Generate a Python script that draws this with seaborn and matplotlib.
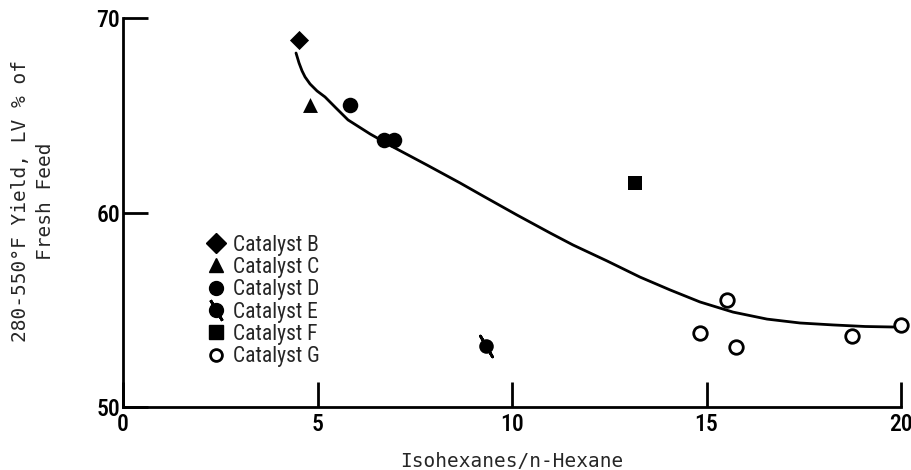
import matplotlib
matplotlib.use("Agg")
import matplotlib.pyplot as plt
from matplotlib.lines import Line2D
from matplotlib import font_manager
import seaborn as sns

# ---- data ----
cat_b_x = [4.52]
cat_b_y = [68.87]
cat_c_x = [4.81]
cat_c_y = [65.53]
cat_d_x = [5.84, 6.71, 6.97]
cat_d_y = [65.53, 63.73, 63.73]
cat_e_x = [9.33]
cat_e_y = [53.14]
cat_f_x = [13.16]
cat_f_y = [61.52]
cat_g_x = [14.83, 15.53, 15.76, 18.74, 20.0]
cat_g_y = [53.80, 55.50, 53.08, 53.65, 54.20]

# trend curve
curve_x = [4.447, 4.524, 4.602, 4.679, 4.807, 4.987, 5.193, 5.476, 5.784, 6.350,
           6.941, 7.815, 8.663, 9.254, 10.129, 10.977, 11.568, 12.442, 13.290,
           14.062, 14.833, 15.681, 16.555, 17.404, 18.252, 19.075, 19.897]
curve_y = [68.20, 67.69, 67.28, 66.97, 66.61, 66.25, 65.94, 65.37, 64.76, 64.04,
           63.37, 62.44, 61.52, 60.85, 59.87, 58.95, 58.33, 57.51, 56.68,
           56.02, 55.40, 54.88, 54.52, 54.32, 54.22, 54.14, 54.11]

x_ticks = [0, 5, 10, 15, 20]
y_ticks = [50, 60, 70]
legend_labels = ["Catalyst B", "Catalyst C", "Catalyst D", "Catalyst E",
                 "Catalyst F", "Catalyst G"]

sns.set_theme(style="white")
plt.rcParams['font.family'] = ['DejaVu Sans']

names = {f.name for f in font_manager.fontManager.ttflist}
cond_family = 'DejaVu Sans'
for cand in ['Liberation Sans Narrow', 'Roboto Condensed', 'Open Sans Condensed',
             'Noto Sans Condensed', 'DejaVu Sans Condensed']:
    if cand in names:
        cond_family = cand
        break

fig = plt.figure(figsize=(9.12, 4.70), dpi=100)
ax = fig.add_axes([0.1349, 0.134, 0.988 - 0.1349, 0.9617 - 0.134])

# trend curve
sns.lineplot(x=curve_x, y=curve_y, ax=ax, color="black", linewidth=2.0,
             sort=False, estimator=None)

common = dict(ax=ax, color="black", linewidth=0, clip_on=False, legend=False, zorder=3)
sns.scatterplot(x=cat_b_x, y=cat_b_y, marker="D", s=95, **common)
sns.scatterplot(x=cat_c_x, y=cat_c_y, marker="^", s=115, **common)
sns.scatterplot(x=cat_d_x, y=cat_d_y, marker="o", s=125, **common)
sns.scatterplot(x=cat_e_x, y=cat_e_y, marker="o", s=110, **common)
sns.scatterplot(x=cat_e_x, y=cat_e_y, marker=(2, 2, 30), s=300, ax=ax,
                color="black", linewidth=2, clip_on=False, legend=False, zorder=3)
sns.scatterplot(x=cat_f_x, y=cat_f_y, marker="s", s=100, **common)
ax.scatter(cat_g_x, cat_g_y, marker="o", s=95, facecolor="white",
           edgecolor="black", linewidth=2, clip_on=False, zorder=3)

ax.set_xlim(0, 20)
ax.set_ylim(50, 70)
ax.set_xticks(x_ticks)
ax.set_yticks(y_ticks)

tick_font = dict(family=[cond_family], size=17, stretch='condensed', weight='medium')
ax.set_xticklabels([str(t) for t in x_ticks], fontdict=tick_font)
ax.set_yticklabels([str(t) for t in y_ticks], fontdict=tick_font)
ax.tick_params(axis="both", direction="in", length=18, width=2, color="black",
               labelcolor="black", bottom=True, left=True)
ax.tick_params(axis="x", pad=4)
ax.tick_params(axis="y", pad=2)

for side in ["top", "right"]:
    ax.spines[side].set_visible(False)
for side in ["left", "bottom"]:
    ax.spines[side].set_color("black")
    ax.spines[side].set_linewidth(2)

label_font = dict(family=['DejaVu Sans Mono'], size=14)
ax.set_xlabel("Isohexanes/n-Hexane", fontdict=label_font)
ax.set_ylabel("280-550°F Yield, LV % of\nFresh Feed", fontdict=label_font,
              linespacing=1.4)
ax.yaxis.set_label_coords(-0.088, 0.53)
ax.xaxis.set_label_coords(0.5, -0.115)

# legend
h_b = Line2D([], [], marker="D", color="black", linestyle="", markersize=10)
h_c = Line2D([], [], marker="^", color="black", linestyle="", markersize=10)
h_d = Line2D([], [], marker="o", color="black", linestyle="", markersize=10)
h_e1 = Line2D([], [], marker="o", color="black", linestyle="", markersize=10)
h_e2 = Line2D([], [], marker=(2, 2, 30), color="black", linestyle="",
              markersize=17, markeredgewidth=2)
h_f = Line2D([], [], marker="s", color="black", linestyle="", markersize=9.5)
h_g = Line2D([], [], marker="o", color="black", markerfacecolor="white",
             linestyle="", markersize=8.5, markeredgewidth=2)
leg = ax.legend([h_b, h_c, h_d, (h_e1, h_e2), h_f, h_g], legend_labels,
                loc="upper left", bbox_to_anchor=(0.097, 0.465),
                frameon=False, handlelength=0.8, handletextpad=0.4,
                labelspacing=0.06, borderaxespad=0,
                prop=dict(family=[cond_family], size=15.5, stretch='condensed'))

fig.savefig("out.png", dpi=100)
